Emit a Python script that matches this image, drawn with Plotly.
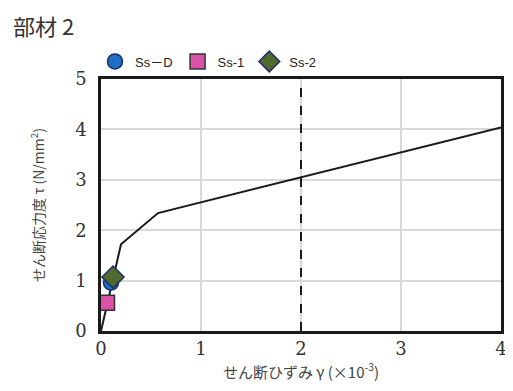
import plotly.graph_objects as go

# skeleton curve
curve_x = [0, 0.2, 0.57, 4.0]
curve_y = [0, 1.72, 2.34, 4.04]

# response points
sd_x, sd_y = [0.1], [0.96]
s1_x, s1_y = [0.06], [0.56]
s2_x, s2_y = [0.12], [1.07]

limit_x = [2, 2]
limit_y = [0, 5]

x_ticks = [0, 1, 2, 3, 4]
y_ticks = [0, 1, 2, 3, 4, 5]

fig = go.Figure()
fig.add_trace(go.Scatter(x=curve_x, y=curve_y, mode="lines",
                         line=dict(color="#1a1a1a", width=2), showlegend=False, hoverinfo="skip"))
fig.add_trace(go.Scatter(x=limit_x, y=limit_y, mode="lines",
                         line=dict(color="#1a1a1a", width=2, dash="dash"), showlegend=False, hoverinfo="skip"))
fig.add_trace(go.Scatter(x=sd_x, y=sd_y, mode="markers", name="Ss－D",
                         marker=dict(symbol="circle", size=15, color="#1c6fc2",
                                     line=dict(color="#1b2f6b", width=1.5))))
fig.add_trace(go.Scatter(x=s1_x, y=s1_y, mode="markers", name="Ss-1",
                         marker=dict(symbol="square", size=15, color="#d952a8",
                                     line=dict(color="#333333", width=1.5))))
fig.add_trace(go.Scatter(x=s2_x, y=s2_y, mode="markers", name="Ss-2",
                         marker=dict(symbol="diamond", size=17, color="#4f6a2c",
                                     line=dict(color="#1b2f6b", width=1.5))))

serif = "DejaVu Serif"
fig.update_layout(
    width=505, height=383,
    margin=dict(l=93, r=6, t=71, b=60),
    paper_bgcolor="white", plot_bgcolor="white",
    title=dict(text="部材 2", x=0.01, xanchor="left", y=0.95, yanchor="middle",
               font=dict(family="Noto Sans CJK JP", size=22, color="#333333")),
    legend=dict(orientation="h", x=-0.015, xanchor="left", y=1.01, yanchor="bottom",
                font=dict(family="Liberation Sans, Noto Sans CJK JP", size=13, color="#222222"),
                itemwidth=30, tracegroupgap=0, bgcolor="rgba(0,0,0,0)"),
    xaxis=dict(range=[0, 4], tickvals=x_ticks, ticks="", showgrid=True, gridcolor="#d9d9d9",
               gridwidth=1.5, zeroline=False, showline=True, linecolor="#1a1a1a", linewidth=2.5,
               mirror=True, tickfont=dict(family=serif, size=18, color="#333333"),
               title=dict(text="せん断ひずみ γ (×10<sup>-3</sup>)", standoff=4,
                          font=dict(family="Noto Sans CJK JP", size=15, color="#444444"))),
    yaxis=dict(range=[0, 5], tickvals=y_ticks, ticks="", showgrid=True, gridcolor="#d9d9d9",
               gridwidth=1.5, zeroline=False, showline=True, linecolor="#1a1a1a", linewidth=2.5,
               mirror=True, ticklabelstandoff=8, tickfont=dict(family=serif, size=18, color="#333333"),
               title=dict(text="せん断応力度 τ (N/mm<sup>2</sup>)", standoff=28,
                          font=dict(family="Noto Sans CJK JP", size=14, color="#444444"))),
)
fig.write_html("out.html")
